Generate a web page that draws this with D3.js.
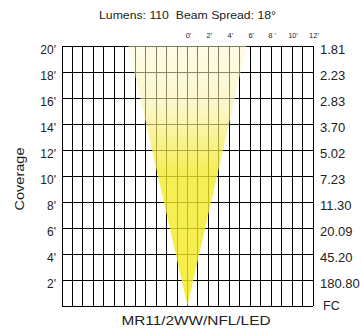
<!DOCTYPE html>
<html>
<head>
<meta charset="utf-8">
<script src="https://cdn.jsdelivr.net/npm/d3@7"></script>
<style>
  html, body { margin: 0; padding: 0; background: #fff; }
  svg { display: block; font-family: "Liberation Sans", Arial, Helvetica, sans-serif; }
  .title { white-space: pre; }
</style>
</head>
<body>
<svg id="chart" width="362" height="328"></svg>
<script>
// Photometric data for the MR11 lamp
const lumens = 110;
const beamSpread = 18;                 // degrees
const lampName = "MR11/2WW/NFL/LED";

// Distance (feet) and footcandles at each distance
const distances = [20, 18, 16, 14, 12, 10, 8, 6, 4, 2];
const footcandles = ["1.81", "2.23", "2.83", "3.70", "5.02", "7.23", "11.30", "20.09", "45.20", "180.80"];

// Beam coverage: lateral half-width (feet) at each distance
const beamDistance = [0, 20];
const beamHalfWidth = [0, 5.65];

// Lateral scale labels (feet from the beam axis)
const lateralTicks = [0, 2, 4, 6, 8, 10, 12];
const lateralLabels = ["0'", "2'", "4'", "6'", "8 '", "10'", "12'"];

const svg = d3.select("#chart");
const plot = { left: 62, right: 313, top: 46, bottom: 306 };

const x = d3.scaleLinear().domain([-12, 12]).range([plot.left, plot.right]);
const y = d3.scaleLinear().domain([0, 20]).range([plot.bottom, plot.top]);

// Beam gradient: pale at the far end, saturated near the lamp
const defs = svg.append("defs");
const grad = defs.append("linearGradient")
  .attr("id", "beamGrad")
  .attr("gradientUnits", "userSpaceOnUse")
  .attr("x1", 0).attr("x2", 0)
  .attr("y1", y(20)).attr("y2", y(0));
grad.append("stop").attr("offset", "0%").attr("stop-color", "rgb(252,248,205)").attr("stop-opacity", 0.5);
grad.append("stop").attr("offset", "22%").attr("stop-color", "rgb(250,242,170)").attr("stop-opacity", 0.6);
grad.append("stop").attr("offset", "48%").attr("stop-color", "rgb(244,234,40)").attr("stop-opacity", 0.78);
grad.append("stop").attr("offset", "100%").attr("stop-color", "rgb(244,234,30)").attr("stop-opacity", 0.82);

// Grid: one column per foot, one row per two feet
const grid = svg.append("g").attr("stroke", "#000").attr("stroke-width", 1)
  .attr("shape-rendering", "crispEdges");
grid.selectAll("line.v")
  .data(d3.range(-12, 13))
  .join("line")
  .attr("class", "v")
  .attr("x1", d => x(d)).attr("x2", d => x(d))
  .attr("y1", y(20)).attr("y2", y(0));
grid.selectAll("line.h")
  .data(d3.range(0, 21, 2))
  .join("line")
  .attr("class", "h")
  .attr("x1", x(-12)).attr("x2", x(12))
  .attr("y1", d => y(d)).attr("y2", d => y(d));

// Beam cone
const beamPts = [
  [x(-beamHalfWidth[1]), y(beamDistance[1])],
  [x(beamHalfWidth[0]), y(beamDistance[0])],
  [x(beamHalfWidth[1]), y(beamDistance[1])]
];
svg.append("path")
  .attr("d", d3.line()(beamPts) + "Z")
  .attr("fill", "url(#beamGrad)");

// Title
svg.append("text")
  .attr("class", "title")
  .attr("x", 187.5).attr("y", 19)
  .attr("text-anchor", "middle")
  .attr("font-size", 11.5)
  .attr("textLength", 177).attr("lengthAdjust", "spacingAndGlyphs")
  .attr("fill", "#222")
  .text(`Lumens: ${lumens}  Beam Spread: ${beamSpread}°`);

// Lateral labels
svg.append("g").selectAll("text")
  .data(lateralTicks)
  .join("text")
  .attr("x", d => x(d) + 1)
  .attr("y", 37.5)
  .attr("text-anchor", "middle")
  .attr("font-size", 7.5)
  .attr("fill", "#222")
  .text((d, i) => lateralLabels[i]);

// Distance labels
svg.append("g").selectAll("text")
  .data(distances)
  .join("text")
  .attr("x", 56)
  .attr("y", d => y(d) + 7.5)
  .attr("text-anchor", "end")
  .attr("font-size", 12)
  .attr("fill", "#222")
  .text(d => d + "'");

// Footcandle labels
svg.append("g").selectAll("text")
  .data(distances)
  .join("text")
  .attr("x", 320)
  .attr("y", d => y(d) + 8)
  .attr("font-size", 13)
  .attr("fill", "#222")
  .text((d, i) => footcandles[i]);

svg.append("text")
  .attr("x", 323).attr("y", 310)
  .attr("font-size", 12.5)
  .attr("fill", "#222")
  .text("FC");

// Axis title
svg.append("text")
  .attr("transform", "translate(24,179) rotate(-90)")
  .attr("text-anchor", "middle")
  .attr("font-size", 13)
  .attr("textLength", 63).attr("lengthAdjust", "spacingAndGlyphs")
  .attr("fill", "#222")
  .text("Coverage");

// Lamp name
svg.append("text")
  .attr("x", 196).attr("y", 325)
  .attr("text-anchor", "middle")
  .attr("font-size", 13.5)
  .attr("textLength", 149).attr("lengthAdjust", "spacingAndGlyphs")
  .attr("fill", "#222")
  .text(lampName);
</script>
</body>
</html>
